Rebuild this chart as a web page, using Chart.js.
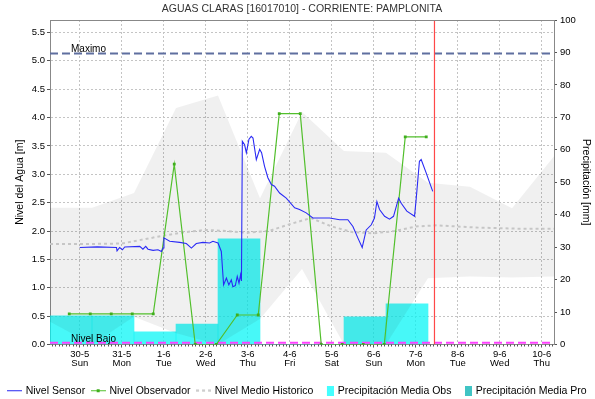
<!DOCTYPE html>
<html>
<head>
<meta charset="utf-8">
<script src="https://cdn.jsdelivr.net/npm/chart.js@4.4.0/dist/chart.umd.min.js"></script>
<style>
  html, body { margin: 0; padding: 0; background: #fff; }
  #wrap { width: 595px; height: 399px; }
</style>
</head>
<body>
<div id="wrap"><canvas id="nivel"></canvas></div>
<script>
// eje x en horas contadas desde 30-5 00:00
const dayLabels = ['30-5', '31-5', '1-6', '2-6', '3-6', '4-6', '5-6', '6-6', '7-6', '8-6', '9-6', '10-6'];
const weekDays = ['Sun', 'Mon', 'Tue', 'Wed', 'Thu', 'Fri', 'Sat', 'Sun', 'Mon', 'Tue', 'Wed', 'Thu'];

const sensorHours = [0, 10, 21.0, 21.3, 22.8, 24.4, 25.7, 34.3, 36.1, 37.7, 39.0, 41.9, 44.7, 46.7, 47.6, 48.1,
  51.4, 57.1, 60.9, 63.8, 66.6, 70.4, 74.2, 76.1, 79.0, 80.9, 82.2, 83.8, 85.2, 86.6, 87.5, 88.9, 90.0, 91.0,
  91.9, 92.4, 92.9, 94.2, 95.2, 96.7, 98.0, 99.0, 100.9, 102.8, 103.9, 105.6, 107.5, 109.5, 111.3, 114.2,
  118.0, 122.8, 125.6, 129.4, 133.2, 137.0, 142.8, 148.5, 153.2, 156.1, 158.9, 161.4, 163.7, 166.6, 168.4,
  169.8, 171.3, 174.2, 177.0, 179.3, 182.2, 183.7, 186.9, 191.3, 192.2, 194.1, 195.1, 198.0, 201.7];
const sensorLevel = [1.71, 1.72, 1.71, 1.65, 1.71, 1.67, 1.72, 1.73, 1.68, 1.73, 1.68, 1.66, 1.67, 1.64, 1.70, 1.88,
  1.82, 1.80, 1.78, 1.70, 1.78, 1.80, 1.79, 1.82, 1.79, 1.64, 1.05, 1.17, 1.05, 1.14, 1.02, 1.04, 1.20, 1.08,
  1.23, 1.12, 3.58, 3.52, 3.38, 3.62, 3.67, 3.64, 3.26, 3.44, 3.38, 3.14, 2.94, 2.82, 2.79, 2.67,
  2.58, 2.41, 2.38, 2.32, 2.23, 2.23, 2.23, 2.20, 2.20, 2.08, 1.88, 1.71, 2.02, 2.11, 2.23,
  2.52, 2.38, 2.26, 2.21, 2.26, 2.58, 2.49, 2.35, 2.26, 2.55, 3.23, 3.26, 3.02, 2.70];

const obsHours = [-6, 6, 18, 30, 42, 54, 66, 78, 90, 102, 114, 126, 138, 150, 162, 174, 186, 198];
const obsLevel = [0.54, 0.54, 0.54, 0.54, 0.54, 3.18, 0, 0, 0.52, 0.52, 4.07, 4.07, 0, 0, 0, 0, 3.66, 3.66];

const histHours = [-17, 0, 24, 36, 48, 60, 72, 84, 96, 108, 120, 132, 144, 156, 168, 180, 192, 204, 216, 228, 240, 252, 264, 271];
const histLevel = [1.77, 1.77, 1.78, 1.85, 1.92, 1.98, 2.02, 2.00, 1.97, 2.00, 2.12, 2.23, 2.08, 1.98, 1.96, 2.00, 2.08, 2.10, 2.08, 2.06, 2.05, 2.04, 2.04, 2.04];

// rango histórico, un valor por día a las 07:00
const bandHours = [-17, 7, 31, 55, 79, 103, 127, 151, 175, 199, 223, 247, 271];
const bandMax = [2.41, 2.41, 2.67, 4.17, 4.39, 2.58, 4.10, 3.41, 3.38, 2.85, 2.78, 2.40, 3.32];
const bandMin = [0.40, 0.00, 0.49, 0.20, 0.00, 0.45, 1.33, 0.00, 0.00, 1.17, 1.20, 1.18, 1.20];

// lluvia diaria de 07:00 a 07:00, centrada en las 19:00
const rainHours = [-5, 19, 43, 67, 91, 115, 139, 163, 187];
const rainObs = [8.8, 8.8, 3.9, 6.3, 32.6, 0, 0, 8.5, 12.5];
const rainProHours = [];
const rainPro = [];

const nivelMaximo = 5.13;
const nivelBajo = 0.03;
const horaActual = 202.7;
const xMin = -17, xMax = 271;
const yMax = 5.72;

const FONT = 'Liberation Sans';

function pairs(xs, ys) {
  return xs.map((x, i) => ({ x: x, y: ys[i] }));
}

function swatch(w, h, draw) {
  const c = document.createElement('canvas');
  c.width = w; c.height = h;
  draw(c.getContext('2d'));
  return c;
}

const legendSwatches = [
  swatch(15, 3, g => { g.strokeStyle = '#2424f0'; g.lineWidth = 1; g.beginPath(); g.moveTo(0, 1.5); g.lineTo(15, 1.5); g.stroke(); }),
  swatch(15, 5, g => { g.strokeStyle = '#52bf2c'; g.lineWidth = 1; g.beginPath(); g.moveTo(0, 2.5); g.lineTo(15, 2.5); g.stroke(); g.fillStyle = '#3fae1c'; g.fillRect(6, 1, 3, 3); }),
  swatch(15, 3, g => { g.strokeStyle = '#c6c6c6'; g.lineWidth = 2; g.setLineDash([3, 3]); g.beginPath(); g.moveTo(0, 1.5); g.lineTo(15, 1.5); g.stroke(); }),
  swatch(15, 10, g => { g.fillStyle = '#44ffff'; g.fillRect(8, 0, 7, 10); }),
  swatch(15, 10, g => { g.fillStyle = '#40c4c4'; g.fillRect(8, 0, 7, 10); })
];
const legendNames = ['Nivel Sensor', 'Nivel Observador', 'Nivel Medio Historico', 'Precipitación Media Obs', 'Precipitación Media Pro'];

const extras = {
  id: 'extras',
  afterDraw(chart) {
    const { ctx, chartArea: a, scales: { x, y } } = chart;
    ctx.save();
    ctx.strokeStyle = '#888';
    ctx.lineWidth = 1;
    ctx.beginPath();
    ctx.moveTo(a.left, Math.round(a.top) + 0.5);
    ctx.lineTo(a.right, Math.round(a.top) + 0.5);
    ctx.stroke();

    // marcas menores cada dos horas bajo el eje x
    ctx.strokeStyle = '#555';
    ctx.beginPath();
    for (let h = -16; h <= 270; h += 2) {
      if (h % 24 === 0) continue;
      const px = Math.round(x.getPixelForValue(h)) + 0.5;
      ctx.moveTo(px, a.bottom);
      ctx.lineTo(px, a.bottom + 2);
    }
    ctx.stroke();

    ctx.fillStyle = '#000';
    ctx.font = '10px ' + FONT;
    ctx.textBaseline = 'bottom';
    ctx.textAlign = 'left';
    ctx.fillText('Maximo', x.getPixelForValue(-5), y.getPixelForValue(nivelMaximo) + 1);
    ctx.fillText('Nivel Bajo', x.getPixelForValue(-5), y.getPixelForValue(nivelBajo) + 1);

    ctx.fillStyle = '#333';
    ctx.font = '10.5px ' + FONT;
    ctx.textAlign = 'center';
    ctx.textBaseline = 'middle';
    ctx.fillText('AGUAS CLARAS [16017010] - CORRIENTE: PAMPLONITA', (a.left + a.right) / 2, 9);
    ctx.restore();
  }
};

const tickFont = { family: FONT, size: 9.5, lineHeight: 1.0 };
const titleFont = { family: FONT, size: 10.5 };

new Chart(document.getElementById('nivel'), {
  data: {
    datasets: [
      { type: 'line', label: 'Nivel Sensor', data: pairs(sensorHours, sensorLevel), yAxisID: 'y',
        borderColor: '#2a2af5', borderWidth: 1.1, pointRadius: 0, order: 1 },
      { type: 'line', label: 'Nivel Observador', data: pairs(obsHours, obsLevel), yAxisID: 'y',
        borderColor: '#52bf2c', borderWidth: 1.2, pointStyle: 'rect', pointRadius: 2,
        pointBackgroundColor: '#3fae1c', pointBorderWidth: 0, order: 2 },
      { type: 'line', label: 'Nivel Medio Historico', data: pairs(histHours, histLevel), yAxisID: 'y',
        borderColor: '#c6c6c6', borderWidth: 2, borderDash: [3, 3], pointRadius: 0, order: 6 },
      { type: 'bar', label: 'Precipitación Media Obs', data: pairs(rainHours, rainObs), yAxisID: 'y1',
        backgroundColor: 'rgba(0,245,245,0.72)', borderWidth: 0, barPercentage: 1, categoryPercentage: 1, grouped: false, order: 10 },
      { type: 'bar', label: 'Precipitación Media Pro', data: pairs(rainProHours, rainPro), yAxisID: 'y1',
        backgroundColor: '#40c4c4', borderWidth: 0, barPercentage: 1, categoryPercentage: 1, grouped: false, order: 10 },
      { type: 'line', label: 'max', data: pairs(bandHours, bandMax), yAxisID: 'y',
        fill: '+1', backgroundColor: 'rgba(0,0,0,0.06)', borderWidth: 0, pointRadius: 0, order: 8 },
      { type: 'line', label: 'min', data: pairs(bandHours, bandMin), yAxisID: 'y',
        fill: false, borderWidth: 0, pointRadius: 0, order: 8 },
      { type: 'line', label: 'Maximo', data: pairs([xMin, xMax], [nivelMaximo, nivelMaximo]), yAxisID: 'y',
        borderColor: '#5f6f9f', borderWidth: 2, borderDash: [8, 4], pointRadius: 0, order: 3 },
      { type: 'line', label: 'Nivel Bajo', data: pairs([xMin, xMax], [nivelBajo, nivelBajo]), yAxisID: 'y',
        borderColor: '#ff40ff', borderWidth: 2, borderDash: [8, 4], pointRadius: 0, order: 3 },
      { type: 'line', label: 'ahora', data: pairs([horaActual, horaActual], [0, yMax]), yAxisID: 'y',
        borderColor: '#ff4848', borderWidth: 1.2, pointRadius: 0, order: 0 }
    ]
  },
  options: {
    animation: false,
    responsive: true,
    maintainAspectRatio: false,
    events: [],
    layout: { padding: { top: 20, left: 0, right: 0, bottom: 0 } },
    plugins: {
      tooltip: { enabled: false },
      title: { display: false },
      legend: {
        position: 'bottom',
        maxHeight: 20.5,
        labels: {
          usePointStyle: true,
          pointStyleWidth: 12,
          padding: 7,
          color: '#000',
          font: { family: FONT, size: 10.5 },
          generateLabels: () => legendNames.map((t, i) => ({
            text: t, pointStyle: legendSwatches[i], fillStyle: 'rgba(0,0,0,0)',
            strokeStyle: 'rgba(0,0,0,0)', lineWidth: 0, hidden: false, datasetIndex: i
          }))
        }
      }
    },
    scales: {
      x: {
        type: 'linear', position: 'bottom', min: xMin, max: xMax, offset: false,
        afterBuildTicks: s => { s.ticks = dayLabels.map((d, i) => ({ value: i * 24 })); },
        afterFit: s => { s.height = 34; },
        grid: { color: '#c4c4c4', tickColor: '#555', tickLength: 3, offset: false },
        border: { color: '#888', dash: [2, 2] },
        ticks: {
          autoSkip: false, maxRotation: 0, padding: 2, color: '#000', font: tickFont,
          callback: (v, i) => [dayLabels[i], weekDays[i]]
        }
      },
      y: {
        position: 'left', min: 0, max: yMax,
        afterBuildTicks: s => { s.ticks = s.ticks.filter(t => Math.abs(t.value * 2 - Math.round(t.value * 2)) < 1e-6); },
        afterFit: s => { s.width = 50; },
        ticks: { stepSize: 0.5, padding: 2, color: '#000', font: tickFont, callback: v => v.toFixed(1) },
        grid: { color: '#c4c4c4', tickColor: '#555', tickLength: 3 },
        border: { color: '#888', dash: [2, 2] },
        title: { display: true, text: 'Nivel del Agua [m]', color: '#000', font: titleFont, padding: { top: 14, bottom: 0 } }
      },
      y1: {
        position: 'right', min: 0, max: 100,
        afterFit: s => { s.width = 41; },
        ticks: { stepSize: 10, padding: 3, color: '#000', font: tickFont },
        grid: { drawOnChartArea: false, tickColor: '#555', tickLength: 3 },
        border: { color: '#888' },
        title: { display: true, text: 'Precipitación [mm]', color: '#000', font: titleFont, padding: { top: 3, bottom: 0 } }
      }
    }
  },
  plugins: [extras]
});
</script>
</body>
</html>
